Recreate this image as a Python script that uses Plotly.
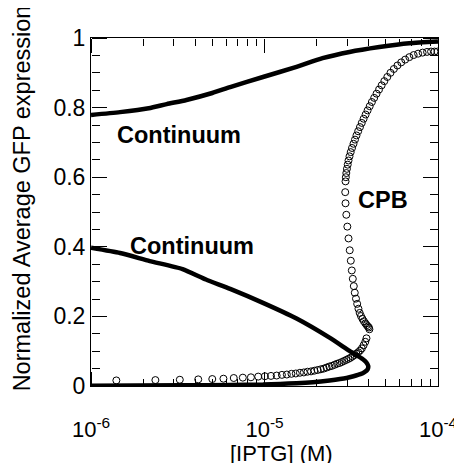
import plotly.graph_objects as go

# ---------------- data ----------------
# Upper continuum (x in M, normalized GFP)
upper_x = [1.0e-6, 1.47e-6, 2.15e-6, 2.73e-6, 3.55e-6, 5.0e-6, 6.34e-6, 9.8e-6,
           1.53e-5, 2.16e-5, 3.09e-5, 4.59e-5, 6.82e-5, 1.0e-4]
upper_y = [0.779, 0.787, 0.798, 0.810, 0.822, 0.842, 0.859, 0.888,
           0.917, 0.942, 0.960, 0.974, 0.985, 0.990]

# Lower continuum incl. fold back to the low branch (x in M)
lower_x = [1.0e-6, 1.47e-6, 2.18e-6, 3.37e-6, 4.6e-6, 6.34e-6, 9.8e-6, 1.53e-5,
           2.37e-5, 3.09e-5, 3.69e-5, 3.86e-5, 3.96e-5, 3.93e-5, 3.77e-5, 3.57e-5,
           3.26e-5, 2.97e-5, 2.37e-5, 1.90e-5, 1.53e-5, 1.23e-5, 9.8e-6, 6.34e-6,
           3.4e-6, 1.0e-6]
lower_y = [0.397, 0.382, 0.359, 0.336, 0.306, 0.279, 0.239, 0.194,
           0.139, 0.101, 0.077, 0.068, 0.058, 0.048, 0.040, 0.034,
           0.028, 0.023, 0.016, 0.011, 0.008, 0.006, 0.004, 0.003,
           0.002, 0.001]

# CPB points (x in micromolar, normalized GFP)
cpb_x_uM = [1.4, 2.35, 3.25, 4.15, 5.0, 5.8, 6.65, 7.5, 8.35, 9.2, 10.05, 10.9,
            11.75, 12.6, 13.45, 14.3, 15.15, 16.0, 16.85, 17.7, 18.55, 19.4,
            20.25, 21.1, 21.95, 22.8, 23.65, 24.5, 25.35, 26.2, 27.05, 27.9,
            28.75, 29.6, 30.45, 31.3, 32.15, 33.0, 33.85, 34.7, 35.55, 36.4,
            37.25, 38.1, 38.7,
            40.24, 39.97, 39.45, 38.83, 38.17, 37.42, 36.69, 35.97, 35.36, 34.80,
            34.21, 33.67, 33.14, 32.71, 32.28, 31.86, 31.44, 30.99, 30.50, 30.02,
            29.62, 29.31, 29.19, 29.31,
            29.43, 29.62, 29.86, 30.18, 30.50, 30.90, 31.39, 31.94, 32.58, 33.23,
            33.89, 34.66, 35.49, 36.35, 37.27, 38.27, 39.29, 40.40, 41.59, 42.87,
            44.25, 45.74, 47.33, 49.04, 51.03, 53.23, 55.67, 58.37, 61.38, 64.71,
            68.39, 72.38, 76.80, 81.51, 86.50, 91.19, 95.48, 99.34]
cpb_y = [0.016, 0.017, 0.018, 0.019, 0.020, 0.021, 0.023, 0.024, 0.025, 0.027,
         0.028, 0.029, 0.030, 0.032, 0.033, 0.035, 0.036, 0.038, 0.039, 0.041,
         0.042, 0.044, 0.046, 0.048, 0.050, 0.053, 0.056, 0.058, 0.061, 0.064,
         0.066, 0.069, 0.072, 0.075, 0.078, 0.081, 0.085, 0.089, 0.093, 0.097,
         0.102, 0.108, 0.117, 0.127, 0.137,
         0.163, 0.168, 0.171, 0.175, 0.180, 0.186, 0.193, 0.201, 0.210, 0.222,
         0.236, 0.251, 0.268, 0.287, 0.308, 0.332, 0.360, 0.390, 0.424, 0.458,
         0.492, 0.525, 0.557, 0.588,
         0.600, 0.612, 0.624, 0.636, 0.648, 0.660, 0.672, 0.684, 0.696, 0.708,
         0.720, 0.732, 0.744, 0.756, 0.768, 0.780, 0.792, 0.804, 0.816, 0.828,
         0.840, 0.852, 0.864, 0.876, 0.888, 0.900, 0.911, 0.921, 0.930, 0.938,
         0.945, 0.951, 0.955, 0.958, 0.960, 0.961, 0.961, 0.961]
cpb_x = [v * 1e-6 for v in cpb_x_uM]

x_tick_vals = [1e-6, 1e-5, 1e-4]
x_tick_text = ["10<sup>-6</sup>", "10<sup>-5</sup>", "10<sup>-4</sup>"]
y_tick_vals = [0, 0.2, 0.4, 0.6, 0.8, 1]
y_tick_text = ["0", "0.2", "0.4", "0.6", "0.8", "1"]

FONT = "Liberation Sans, Arial, sans-serif"

fig = go.Figure()
fig.add_trace(go.Scatter(x=upper_x, y=upper_y, mode="lines",
                         line=dict(color="black", width=4.5, shape="spline", smoothing=0.6),
                         showlegend=False, hoverinfo="skip"))
fig.add_trace(go.Scatter(x=lower_x, y=lower_y, mode="lines",
                         line=dict(color="black", width=4.5, shape="spline", smoothing=0.5),
                         showlegend=False, hoverinfo="skip"))
fig.add_trace(go.Scatter(x=cpb_x, y=cpb_y, mode="markers",
                         marker=dict(symbol="circle-open", size=7, color="black",
                                     line=dict(width=1, color="black")),
                         showlegend=False, hoverinfo="skip"))
# empty traces so the tick-only overlay axes get their own subplots
fig.add_trace(go.Scatter(x=[], y=[], xaxis="x2", yaxis="y2", showlegend=False,
                         hoverinfo="skip"))
fig.add_trace(go.Scatter(x=[], y=[], xaxis="x3", yaxis="y3", showlegend=False,
                         hoverinfo="skip"))

x_tick_axis = dict(type="log", range=[-6, -4], overlaying="x", anchor="free",
                   showline=False, showgrid=False, zeroline=False,
                   showticklabels=False, ticks="outside", ticklen=14,
                   tickwidth=1, tickcolor="black", tickmode="linear",
                   tick0=0, dtick=1,
                   minor=dict(ticks="outside", ticklen=7, tickwidth=1,
                              tickcolor="black", dtick="D1", showgrid=False))
y_tick_axis = dict(range=[0, 1], overlaying="y", anchor="free",
                   showline=False, showgrid=False, zeroline=False,
                   showticklabels=False, ticks="outside", ticklen=15,
                   tickwidth=1, tickcolor="black", tickmode="linear",
                   tick0=0, dtick=0.2,
                   minor=dict(ticks="outside", ticklen=8, tickwidth=1,
                              tickcolor="black", dtick=0.05, showgrid=False))

fig.update_layout(
    width=462, height=463,
    margin=dict(l=83, r=30, t=30, b=85),
    paper_bgcolor="white", plot_bgcolor="white",
    font=dict(family=FONT, color="black", size=23),
    xaxis=dict(type="log", range=[-6, -4], showgrid=False, zeroline=False,
               showline=True, linecolor="black", linewidth=1, mirror=True,
               ticks="outside", ticklen=24, tickwidth=1, tickcolor="rgba(0,0,0,0)",
               tickmode="array", tickvals=x_tick_vals, ticktext=x_tick_text,
               tickfont=dict(size=22, family=FONT)),
    yaxis=dict(range=[0, 1], showgrid=False, zeroline=False,
               showline=True, linecolor="black", linewidth=1, mirror=True,
               ticks="", tickmode="array", tickvals=y_tick_vals, ticktext=y_tick_text,
               tickfont=dict(size=23, family=FONT)),
    xaxis2=dict(x_tick_axis, position=0, side="top"),
    xaxis3=dict(x_tick_axis, position=1, side="bottom"),
    yaxis2=dict(y_tick_axis, position=0, side="right"),
    yaxis3=dict(y_tick_axis, position=1, side="left"),
    annotations=[
        dict(text="<b>Continuum</b>", x=0.255, y=0.721, xref="paper", yref="paper",
             xanchor="center", yanchor="middle",
             showarrow=False, font=dict(size=23.5, family=FONT)),
        dict(text="<b>Continuum</b>", x=0.292, y=0.402, xref="paper", yref="paper",
             xanchor="center", yanchor="middle",
             showarrow=False, font=dict(size=23.5, family=FONT)),
        dict(text="<b>CPB</b>", x=0.841, y=0.534, xref="paper", yref="paper",
             xanchor="center", yanchor="middle",
             showarrow=False, font=dict(size=23.5, family=FONT)),
        dict(text="[IPTG] (M)", x=0.550, y=-0.195, xref="paper", yref="paper",
             xanchor="center", yanchor="middle",
             showarrow=False, font=dict(size=22, family=FONT)),
        dict(text="Normalized Average GFP expression", x=-0.198, y=0.540,
             xref="paper", yref="paper", textangle=-90, showarrow=False,
             xanchor="center", yanchor="middle",
             font=dict(size=23.5, family=FONT)),
    ],
)

fig.write_html("out.html")
